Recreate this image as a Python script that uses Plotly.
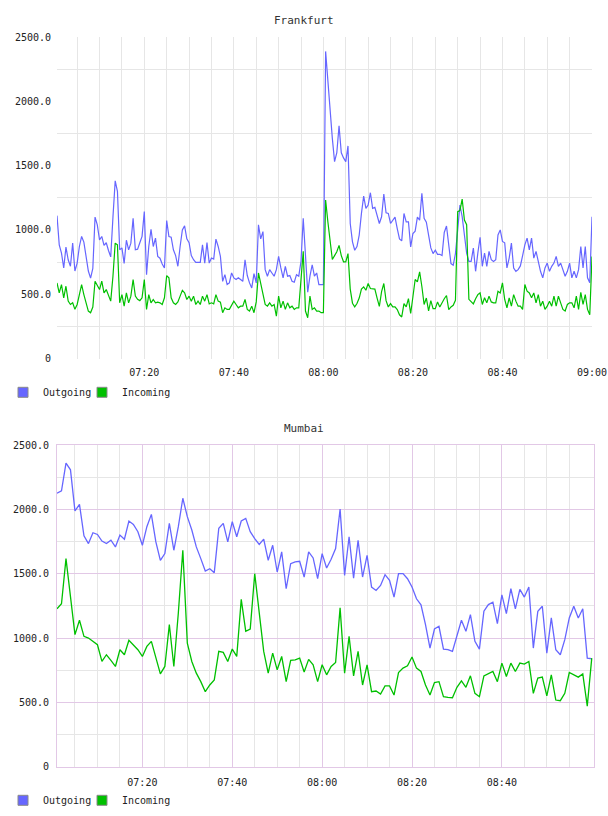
import pandas as pd
import plotly.graph_objects as go

# ---------------- data ----------------
fra_outgoing = [
    1111, 884, 820, 704, 866, 768, 717, 897, 680, 742,
    871, 949, 905, 790, 680, 625, 700, 1100, 1039, 923,
    949, 880, 900, 840, 790, 1100, 1381, 1300, 845, 860,
    740, 920, 845, 897, 1090, 845, 850, 900, 950, 1142,
    652, 871, 1005, 871, 936, 794, 780, 735, 704, 1072,
    949, 943, 845, 800, 717, 871, 1000, 1031, 930, 900,
    800, 768, 747, 747, 747, 884, 742, 902, 742, 781,
    773, 928, 871, 794, 600, 652, 575, 588, 665, 627,
    614, 627, 614, 600, 768, 645, 588, 549, 660, 588,
    1039, 930, 987, 691, 640, 691, 665, 640, 691, 794,
    704, 627, 717, 640, 645, 600, 593, 652, 640, 755,
    1090, 794, 515, 640, 729, 640, 665, 575, 575, 575,
    2388, 2140, 1970, 1712, 1531, 1600, 1809, 1600, 1560, 1531,
    1653, 1050, 907, 842, 870, 960, 1128, 1263, 1167, 1193,
    1289, 1167, 1175, 1120, 1050, 1102, 1279, 1133, 1128, 1050,
    1076, 1100, 1010, 930, 915, 1128, 1063, 1063, 868, 972,
    990, 1100, 1076, 1284, 1090, 1060, 960, 860, 816, 842,
    810, 810, 800, 980, 1030, 900, 738, 725, 816, 1000,
    1193, 1103, 950, 820, 755, 755, 858, 678, 820, 943,
    717, 820, 717, 833, 768, 755, 768, 961, 1000, 910,
    900, 704, 781, 897, 704, 678, 691, 720, 800, 884,
    936, 845, 936, 781, 833, 742, 678, 627, 704, 742,
    678, 717, 742, 794, 717, 742, 691, 640, 678, 742,
    627, 678, 627, 691, 871, 704, 871, 627, 590, 1102,
]
fra_incoming = [
    588, 510, 575, 472, 562, 446, 420, 433, 382, 420,
    497, 575, 497, 420, 369, 356, 400, 601, 562, 536,
    601, 510, 536, 485, 446, 640, 897, 884, 433, 497,
    407, 510, 433, 485, 614, 485, 460, 450, 472, 614,
    382, 497, 433, 459, 433, 438, 433, 420, 472, 645,
    627, 472, 433, 420, 440, 485, 530, 510, 459, 485,
    446, 485, 420, 446, 420, 485, 446, 497, 425, 433,
    425, 497, 446, 438, 356, 394, 382, 382, 420, 446,
    420, 394, 407, 407, 459, 382, 369, 407, 356, 440,
    665, 588, 510, 420, 407, 433, 407, 420, 330, 485,
    394, 446, 382, 433, 394, 407, 382, 394, 394, 600,
    833, 369, 317, 485, 382, 394, 369, 369, 356, 356,
    1232, 1063, 900, 770, 800, 830, 880, 800, 752, 752,
    816, 540, 430, 401, 427, 470, 540, 557, 531, 583,
    544, 544, 540, 470, 406, 520, 583, 450, 401, 427,
    401, 401, 380, 340, 323, 427, 401, 466, 350, 480,
    614, 596, 674, 560, 420, 470, 370, 450, 388, 388,
    440, 401, 440, 465, 490, 380, 401, 414, 453, 1142,
    1150, 1240, 1077, 1040, 460, 440, 425, 465, 497, 510,
    420, 472, 433, 485, 440, 433, 433, 523, 510, 588,
    459, 394, 472, 407, 497, 446, 407, 407, 382, 575,
    523, 510, 472, 510, 433, 497, 407, 446, 382, 407,
    446, 407, 485, 407, 485, 433, 382, 369, 420, 433,
    433, 394, 485, 382, 515, 420, 497, 382, 340, 793,
]
mum_outgoing = [
    2125, 2143, 2359, 2307, 1987, 2039, 1794, 1734, 1818, 1805,
    1753, 1734, 1760, 1708, 1800, 1768, 1909, 1883, 1826, 1721,
    1865, 1961, 1747, 1604, 1656, 1891, 1682, 1865, 2086, 1943,
    1839, 1708, 1617, 1521, 1539, 1508, 1852, 1891, 1747, 1904,
    1787, 1909, 1930, 1826, 1773, 1727, 1768, 1604, 1721, 1513,
    1669, 1383, 1578, 1591, 1596, 1474, 1669, 1622, 1461, 1656,
    1544, 1612, 1695, 2003, 1487, 1787, 1466, 1760, 1474, 1643,
    1396, 1370, 1409, 1492, 1448, 1318, 1500, 1500, 1461, 1396,
    1305, 1258, 1104, 922, 1070, 1091, 914, 909, 896, 1013,
    1138, 1052, 1182, 974, 914, 1208, 1260, 1279, 1112, 1336,
    1190, 1383, 1227, 1378, 1318, 1396, 922, 1208, 1247, 883,
    1156, 909, 870, 987, 1156, 1247, 1156, 1227, 844, 839,
]
mum_incoming = [
    1227, 1266, 1617, 1300, 1026, 1138, 1013, 1000, 974, 948,
    818, 870, 826, 779, 909, 870, 982, 948, 909, 857,
    935, 974, 844, 721, 779, 1104, 779, 1195, 1682, 961,
    818, 727, 661, 583, 635, 674, 896, 888, 818, 914,
    857, 1300, 1052, 1070, 1500, 1170, 896, 727, 883, 753,
    857, 661, 826, 831, 844, 736, 834, 792, 661, 792,
    714, 779, 810, 1234, 727, 1013, 706, 896, 635, 792,
    583, 588, 565, 628, 628, 557, 732, 766, 784, 852,
    766, 740, 635, 557, 654, 661, 544, 539, 536, 617,
    667, 617, 706, 570, 544, 706, 721, 740, 661, 805,
    701, 805, 740, 805, 797, 818, 570, 688, 696, 550,
    714, 518, 513, 570, 732, 714, 696, 721, 471, 844,
]

fra_time = pd.date_range("2024-01-01 07:00:30", periods=len(fra_outgoing), freq="30s")
mum_time = pd.date_range("2024-01-01 07:01:00", periods=len(mum_outgoing), freq="1min")

y_ticks = [0, 500, 1000, 1500, 2000, 2500]
y_labels = ["0", "500.0", "1000.0", "1500.0", "2000.0", "2500.0"]
y_minor = [250, 750, 1250, 1750, 2250]
fra_x_ticks = ["2024-01-01 07:20", "2024-01-01 07:40", "2024-01-01 08:00",
               "2024-01-01 08:20", "2024-01-01 08:40", "2024-01-01 09:00"]
mum_x_ticks = ["2024-01-01 07:20", "2024-01-01 07:40", "2024-01-01 08:00",
               "2024-01-01 08:20", "2024-01-01 08:40"]
x_minor = list(pd.date_range("2024-01-01 07:05", "2024-01-01 08:55", freq="5min"))
fra_range = ["2024-01-01 07:00:30", "2024-01-01 09:00:00"]
mum_range = ["2024-01-01 07:01:00", "2024-01-01 09:00:30"]
titles = ["Frankfurt", "Mumbai"]
series_names = ["Outgoing", "Incoming"]

# ---------------- style ----------------
W, H = 608, 816
BLUE = "#6666ff"
GREEN = "#00c000"
GRAY_GRID = "#e6e6e6"
PURPLE = "#e2c8e6"
FONT = "DejaVu Sans Mono"
TXT = "#222222"


def px_x(p):
    return p / W


def px_y(p):
    return 1 - p / H


fig = go.Figure()

fig.add_trace(go.Scatter(x=fra_time, y=fra_outgoing, mode="lines", line=dict(color=BLUE, width=1.2),
                         xaxis="x", yaxis="y", showlegend=False))
fig.add_trace(go.Scatter(x=fra_time, y=fra_incoming, mode="lines", line=dict(color=GREEN, width=1.2),
                         xaxis="x", yaxis="y", showlegend=False))
fig.add_trace(go.Scatter(x=mum_time, y=mum_outgoing, mode="lines", line=dict(color=BLUE, width=1.3),
                         xaxis="x2", yaxis="y2", showlegend=False))
fig.add_trace(go.Scatter(x=mum_time, y=mum_incoming, mode="lines", line=dict(color=GREEN, width=1.3),
                         xaxis="x2", yaxis="y2", showlegend=False))

# legend-only entries: one legend per item so each can be placed like the original
legend_specs = [
    ("legend", series_names[0], BLUE, 3, 392.3, "x", "y"),
    ("legend2", series_names[1], GREEN, 82, 392.3, "x", "y"),
    ("legend3", series_names[0], BLUE, 3, 800.3, "x2", "y2"),
    ("legend4", series_names[1], GREEN, 82, 800.3, "x2", "y2"),
]
legend_layout = {}
for lg, name, col, lx, ly, xa, ya in legend_specs:
    fig.add_trace(go.Scatter(x=[None], y=[None], mode="markers", name=name, legend=lg,
                             marker=dict(symbol="square", size=10, color=col,
                                         line=dict(color="#8a8a8a", width=1)),
                             xaxis=xa, yaxis=ya))
    legend_layout[lg] = dict(orientation="h", x=px_x(lx), y=px_y(ly), xanchor="left", yanchor="middle",
                             font=dict(family=FONT, size=10, color=TXT), bgcolor="rgba(0,0,0,0)",
                             itemwidth=30, itemclick=False, itemdoubleclick=False)

tickfont = dict(family=FONT, size=10, color=TXT)

xcommon = dict(type="date", tickformat="%H:%M", tickmode="array", ticks="", automargin=False,
               tickfont=tickfont, zeroline=False, fixedrange=True, ticklabelstandoff=6)
ycommon = dict(range=[0, 2500], tickmode="array", tickvals=y_ticks, ticktext=y_labels, automargin=False,
               ticks="", tickfont=tickfont, zeroline=False, fixedrange=True, ticklabelstandoff=5)

fig.update_layout(
    width=W, height=H, margin=dict(l=0, r=0, t=0, b=0, autoexpand=False),
    paper_bgcolor="white", plot_bgcolor="white",
    xaxis=dict(**xcommon, domain=[px_x(57), px_x(592)], range=fra_range, tickvals=fra_x_ticks,
               anchor="y", showgrid=True, gridcolor=GRAY_GRID, gridwidth=1, showline=False,
               minor=dict(tickmode="array", tickvals=x_minor, showgrid=True, gridcolor=GRAY_GRID)),
    yaxis=dict(**ycommon, domain=[px_y(358.5), px_y(37)], anchor="x", showgrid=False, showline=False,
               minor=dict(tickmode="array", tickvals=y_minor, showgrid=True, gridcolor=GRAY_GRID)),
    xaxis2=dict(**xcommon, domain=[px_x(57), px_x(594)], range=mum_range, tickvals=mum_x_ticks,
                anchor="y2", showgrid=True, gridcolor=PURPLE, gridwidth=1,
                showline=True, linecolor=PURPLE, mirror=True, linewidth=1,
                minor=dict(tickmode="array", tickvals=x_minor, showgrid=True, gridcolor=GRAY_GRID)),
    yaxis2=dict(**ycommon, domain=[px_y(766.7), px_y(445)], anchor="x2", showgrid=True,
                gridcolor=PURPLE, showline=True, linecolor=PURPLE, mirror=True, linewidth=1,
                minor=dict(tickmode="array", tickvals=y_minor, showgrid=True, gridcolor=GRAY_GRID)),
    annotations=[
        dict(text=titles[0], x=0.5, y=px_y(20.7), xref="paper", yref="paper", showarrow=False,
             xanchor="center", yanchor="middle", font=dict(family=FONT, size=11, color="#333333")),
        dict(text=titles[1], x=0.5, y=px_y(428.3), xref="paper", yref="paper", showarrow=False,
             xanchor="center", yanchor="middle", font=dict(family=FONT, size=11, color="#333333")),
    ],
    **legend_layout,
)

fig.write_html("out.html", config={"displayModeBar": False})
